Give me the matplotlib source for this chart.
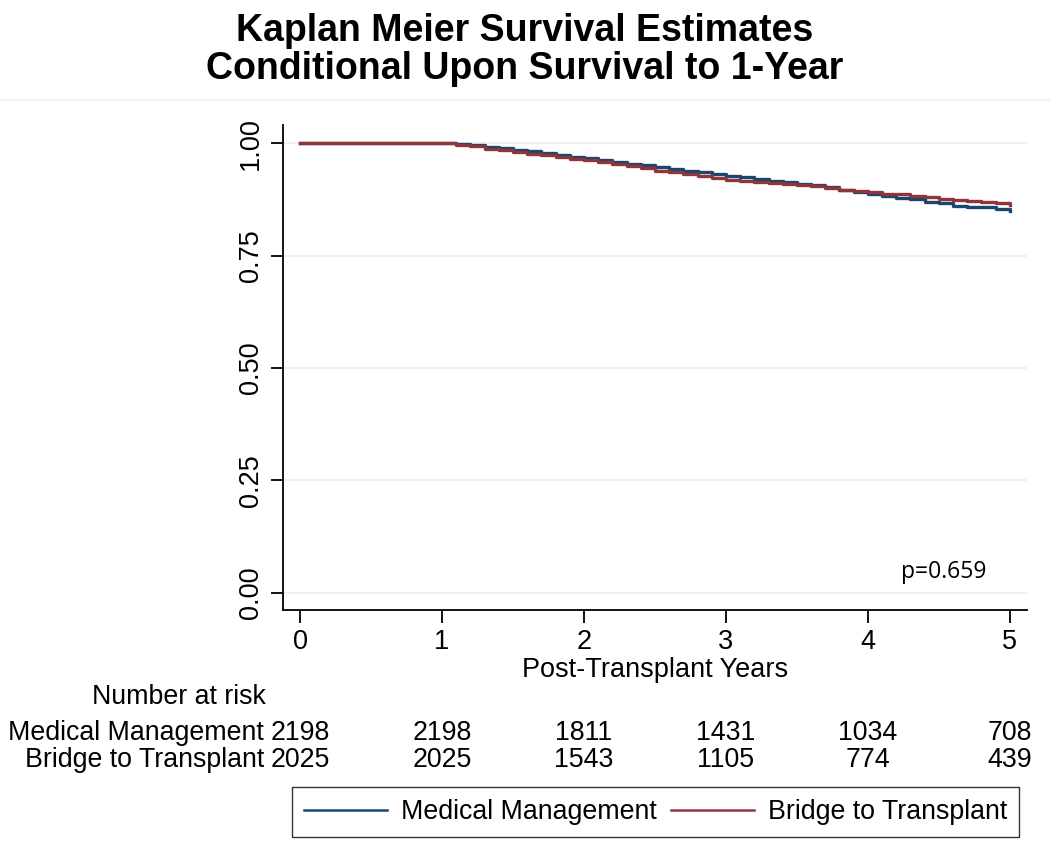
import matplotlib.pyplot as plt
from matplotlib.lines import Line2D
import matplotlib.transforms as mtransforms

plt.rcParams['font.family'] = ['Liberation Sans', 'DejaVu Sans']

# survival estimates, 0.1-year steps after year 1
years = [0.0, 1.0, 1.1, 1.2, 1.3, 1.4, 1.5, 1.6, 1.7, 1.8, 1.9, 2.0, 2.1, 2.2, 2.3, 2.4,
         2.5, 2.6, 2.7, 2.8, 2.9, 3.0, 3.1, 3.2, 3.3, 3.4, 3.5, 3.6, 3.7, 3.8, 3.9,
         4.0, 4.1, 4.2, 4.3, 4.4, 4.5, 4.6, 4.7, 4.8, 4.9, 5.0]
surv_mm = [1.000, 1.000, 0.998, 0.995, 0.992, 0.989, 0.985, 0.982, 0.978, 0.974, 0.970,
           0.966, 0.962, 0.958, 0.954, 0.951, 0.947, 0.943, 0.939, 0.935, 0.932,
           0.928, 0.925, 0.921, 0.917, 0.914, 0.910, 0.906, 0.902, 0.897, 0.892,
           0.888, 0.883, 0.879, 0.875, 0.870, 0.866, 0.861, 0.859, 0.857, 0.853, 0.850]
surv_bt = [1.000, 1.000, 0.997, 0.993, 0.988, 0.984, 0.980, 0.976, 0.973, 0.969, 0.965,
           0.962, 0.958, 0.953, 0.949, 0.944, 0.939, 0.935, 0.931, 0.927, 0.922,
           0.918, 0.915, 0.913, 0.911, 0.910, 0.908, 0.905, 0.901, 0.897, 0.893,
           0.891, 0.888, 0.886, 0.883, 0.880, 0.877, 0.874, 0.872, 0.869, 0.867, 0.862]

risk_years = [0, 1, 2, 3, 4, 5]
risk_mm = [2198, 2198, 1811, 1431, 1034, 708]
risk_bt = [2025, 2025, 1543, 1105, 774, 439]

groups = ["Medical Management", "Bridge to Transplant"]
colors = ["#1a476f", "#90353b"]

fig = plt.figure(figsize=(10.5, 8.46), dpi=100)
ax = fig.add_axes([0.2695, 0.279, 0.7085, 0.573])

ax.plot(years, surv_mm, drawstyle="steps-post", color=colors[0], lw=2.4)
ax.plot(years, surv_bt, drawstyle="steps-post", color=colors[1], lw=2.4)

ax.set_xlim(-0.12, 5.12)
ax.set_ylim(-0.038, 1.04)
ax.set_xticks(risk_years)
ax.set_yticks([0, 0.25, 0.5, 0.75, 1.0])
ax.set_yticklabels(["0.00", "0.25", "0.50", "0.75", "1.00"], rotation=90, va="center")
ax.tick_params(labelsize=19.5, length=9, width=1.3, pad=5)
ax.yaxis.grid(True, color="#eaf2f3", lw=1.5)
ax.set_axisbelow(True)
for s in ["top", "right"]:
    ax.spines[s].set_visible(False)
for s in ["left", "bottom"]:
    ax.spines[s].set_linewidth(1.3)
ax.set_xlabel("Post-Transplant Years", fontsize=19.5, labelpad=1)

ax.text(4.535, 0.02, "p=0.659", fontsize=16.5, family=["Open Sans", "DejaVu Sans"],
        ha="center", va="bottom")

# title
fig.text(0.5, 0.963, "Kaplan Meier Survival Estimates", ha="center", va="center",
         fontsize=27, fontweight="bold")
fig.text(0.5, 0.918, "Conditional Upon Survival to 1-Year", ha="center", va="center",
         fontsize=27, fontweight="bold")
fig.add_artist(Line2D([0, 1], [0.882, 0.882], color="#efefef", lw=1.2))

# number at risk table
tr = mtransforms.blended_transform_factory(ax.transData, fig.transFigure)
fig.text(0.17, 0.176, "Number at risk", ha="center", va="center", fontsize=19.3)
row_y = [0.134, 0.102]
for name, counts, yy in zip(groups, [risk_mm, risk_bt], row_y):
    fig.text(0.2515, yy, name, ha="right", va="center", fontsize=19.3)
    for t, n in zip(risk_years, counts):
        ax.text(t, yy, str(n), transform=tr, ha="center", va="center", fontsize=19.3)

handles = [Line2D([], [], color=c, lw=1.8) for c in colors]
fig.legend(handles, groups, loc="center", bbox_to_anchor=(0.6245, 0.040), ncol=2,
           fontsize=19.3, frameon=True, fancybox=False, edgecolor="black",
           handlelength=3.1, columnspacing=0.55, handletextpad=0.5,
           borderpad=0.45)

fig.savefig("out.png", dpi=100)
